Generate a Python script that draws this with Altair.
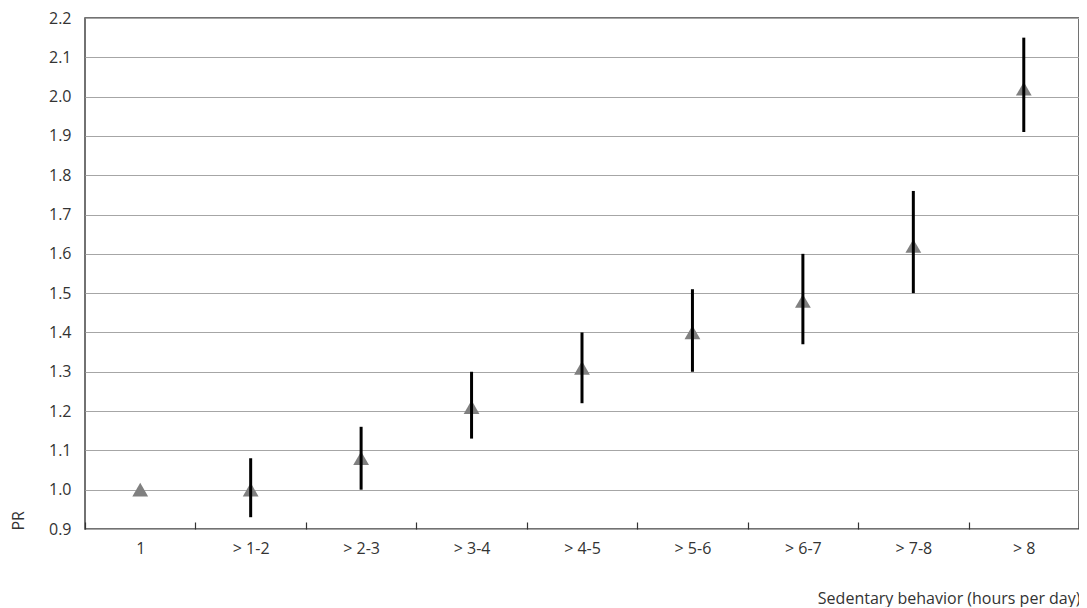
import altair as alt
import pandas as pd

categories = ["1", "> 1-2", "> 2-3", "> 3-4", "> 4-5", "> 5-6", "> 6-7", "> 7-8", "> 8"]
pr = [1.00, 1.00, 1.08, 1.21, 1.31, 1.40, 1.48, 1.62, 2.02]
ci_low = [None, 0.93, 1.00, 1.13, 1.22, 1.30, 1.37, 1.50, 1.91]
ci_high = [None, 1.08, 1.16, 1.30, 1.40, 1.51, 1.60, 1.76, 2.15]
y_ticks = [0.9, 1.0, 1.1, 1.2, 1.3, 1.4, 1.5, 1.6, 1.7, 1.8, 1.9, 2.0, 2.1, 2.2]

df = pd.DataFrame({"cat": categories, "pr": pr, "lo": ci_low, "hi": ci_high})

FONT = "Open Sans"
FS = 16
W = 994
H = 511

x_axis = alt.Axis(
    title="Sedentary behavior (hours per day)",
    labelAngle=0,
    domain=False,
    offset=-7,
    tickSize=7,
    tickColor="#333333",
    tickWidth=1.2,
    tickBand="extent",
    labelPadding=11,
    labelFontSize=FS,
    labelColor="#333333",
    labelFont=FONT,
    grid=False,
    titleFont=FONT,
    titleFontSize=FS,
    titleFontWeight="normal",
    titleColor="#333333",
    titleX=W + 1,
    titleY=81,
    titleAlign="right",
    titleBaseline="alphabetic",
)
x_scale = alt.Scale(paddingInner=0, paddingOuter=0)

y_scale = alt.Scale(domain=[0.9, 2.2], nice=False, zero=False)

y_axis = alt.Axis(
    title="PR",
    values=y_ticks,
    format=".1f",
    domain=False,
    ticks=False,
    labelPadding=14,
    labelFontSize=FS,
    labelColor="#333333",
    labelFont=FONT,
    labelOverlap=False,
    grid=True,
    gridColor="#a6a6a6",
    gridWidth=1,
    titleFont=FONT,
    titleFontSize=FS,
    titleFontWeight="normal",
    titleColor="#333333",
    titleAngle=270,
    titleX=-67,
    titleY=512,
    titleAlign="left",
    titleBaseline="middle",
)

points = alt.Chart(df).mark_point(
    shape="triangle-up", filled=True, color="#808080", size=250, opacity=1
).encode(
    x=alt.X("cat:N", sort=categories, scale=x_scale, axis=x_axis),
    y=alt.Y("pr:Q", scale=y_scale, axis=y_axis),
)

bars = alt.Chart(df).transform_filter("datum.lo != null").mark_rule(
    color="black", strokeWidth=3
).encode(
    x=alt.X("cat:N", sort=categories, scale=x_scale, axis=x_axis),
    y=alt.Y("lo:Q", scale=y_scale, axis=y_axis),
    y2="hi:Q",
)

chart = (
    alt.layer(points, bars)
    .properties(
        width=W,
        height=H,
        background="white",
        autosize=alt.AutoSizeParams(type="none"),
        padding={"left": 77, "top": 10, "right": 0, "bottom": 78},
    )
    .configure_view(stroke="#444444", strokeWidth=1.5)
)

chart.save("out.html", embed_options={"renderer": "svg", "actions": False})
